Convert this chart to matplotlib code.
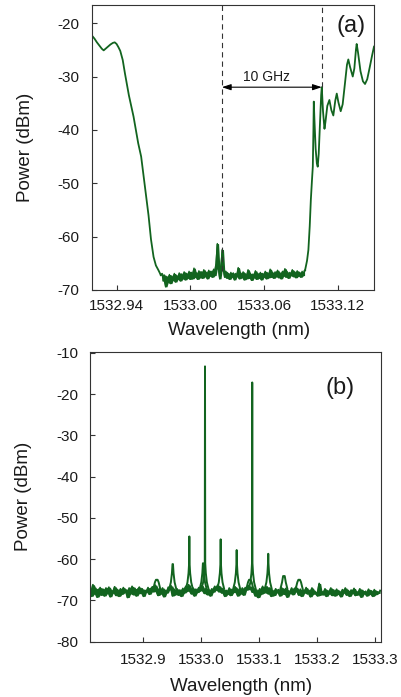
import numpy as np
import matplotlib
matplotlib.use('Agg')
import matplotlib.pyplot as plt
from matplotlib.ticker import FixedLocator, FormatStrFormatter

plt.rcParams['font.family'] = ['Liberation Sans', 'DejaVu Sans']
plt.rcParams['axes.unicode_minus'] = False
plt.rcParams['lines.scale_dashes'] = False

# ---------------- data: panel (a) ----------------
a_left_wl = [1532.9202, 1532.9220, 1532.9240, 1532.9260, 1532.9280, 1532.9295,
             1532.9310, 1532.9330, 1532.9350, 1532.9370, 1532.9385, 1532.9400,
             1532.9415, 1532.9430, 1532.9450, 1532.9468, 1532.9500, 1532.9538,
             1532.9576, 1532.9600, 1532.9630, 1532.9660, 1532.9680, 1532.9701,
             1532.9720, 1532.9741, 1532.9760]
a_left_dbm = [-22.4, -22.9, -23.6, -24.2, -24.8, -25.1,
              -24.8, -24.4, -24.0, -23.7, -23.6, -23.9,
              -24.5, -25.2, -26.9, -29.4, -33.5, -37.5,
              -42.5, -45.0, -50.5, -56.0, -60.5, -63.8,
              -65.4, -66.3, -67.2]
a_floor_start, a_floor_stop = 1532.977, 1533.093
a_floor_dbm = [-67.0, -68.3, -67.2, -69.4, -67.5, -68.6, -67.1, -68.8, -67.4, -68.2,
               -66.9, -68.5, -67.3, -68.0, -66.8, -68.3, -67.0, -67.9, -66.6, -68.1,
               -66.9, -67.8, -66.5, -68.0, -66.7, -67.9, -65.9, -67.6, -66.8, -68.0,
               -66.4, -67.7, -66.6, -67.8, -66.2, -67.5, -66.7, -67.9, -66.3, -67.4,
               -66.5, -67.6, -66.1, -67.3, -65.0, -61.3, -66.0, -67.9, -65.5, -62.4,
               -66.2, -67.6, -66.5, -67.8, -66.9, -68.0, -66.7, -67.6, -66.8, -68.1,
               -66.9, -67.5, -65.8, -67.9, -66.8, -67.7, -66.6, -68.1, -67.0, -67.9,
               -66.2, -67.8, -66.9, -68.2, -67.0, -67.7, -66.4, -68.0, -66.9, -67.8,
               -66.7, -68.1, -66.9, -67.6, -66.5, -67.9, -66.8, -67.7, -66.1, -67.6,
               -66.7, -67.8, -66.6, -67.5, -66.3, -67.7, -66.8, -67.9, -66.5, -67.4,
               -66.0, -67.6, -66.6, -67.8, -66.7, -67.3, -66.2, -67.5, -66.6, -67.7,
               -66.4, -67.4, -66.7, -67.6, -66.5, -67.3, -66.4]
a_right_wl = [1533.0934, 1533.0950, 1533.0961, 1533.0972, 1533.0981, 1533.0990,
              1533.0997, 1533.1002, 1533.1005, 1533.1010, 1533.1020, 1533.1030,
              1533.1037, 1533.1045, 1533.1055, 1533.1065, 1533.1070, 1533.1080,
              1533.1092, 1533.1100, 1533.1115, 1533.1132, 1533.1148, 1533.1164,
              1533.1180, 1533.1192, 1533.1205, 1533.1224, 1533.1240, 1533.1260,
              1533.1275, 1533.1286, 1533.1300, 1533.1322, 1533.1335, 1533.1348,
              1533.1354, 1533.1365, 1533.1385, 1533.1405, 1533.1422, 1533.1440,
              1533.1460, 1533.1480, 1533.1495]
a_right_dbm = [-66.3, -64.5, -62.5, -58.0, -53.1, -49.5,
               -46.9, -40.0, -34.7, -38.0, -43.5, -46.3,
               -46.9, -44.5, -39.0, -33.5, -32.0, -36.5,
               -39.8, -38.5, -35.5, -34.4, -36.3, -37.3,
               -34.5, -33.2, -34.8, -36.5, -35.2, -31.0,
               -27.8, -26.8, -28.2, -30.0, -28.5, -25.0,
               -23.9, -25.5, -29.0, -30.9, -31.4, -30.5,
               -28.3, -26.0, -24.4]
a_marker_wl = [1533.0257, 1533.1070]
a_marker_bottom_dbm = [-66.5, -32.0]
a_arrow_dbm = -32.0
a_xticks = [1532.94, 1533.00, 1533.06, 1533.12]
a_yticks = [-70, -60, -50, -40, -30, -20]

# ---------------- data: panel (b) ----------------
b_floor_start, b_floor_stop = 1532.809, 1533.309
b_floor_dbm = [
    -67.5, -69.0, -66.2, -68.4, -67.1, -69.2, -67.8, -66.9, -68.7, -67.3,
    -68.9, -67.0, -68.3, -66.8, -69.1, -67.6, -68.2, -66.7, -68.8, -67.4,
    -69.0, -67.2, -68.5, -66.9, -68.1, -67.5, -69.3, -67.0, -68.4, -66.6,
    -68.6, -67.1, -68.9, -67.4, -66.8, -68.3, -67.2, -69.0, -67.6, -68.0,
    -66.9, -68.5, -67.3, -66.7, -67.9, -66.3, -67.8, -68.8, -67.1, -68.4,
    -67.0, -69.1, -67.6, -68.2, -66.8, -67.4, -66.5, -68.9, -67.3, -68.6,
    -67.2, -68.7, -67.5, -69.0, -67.1, -68.2, -66.6, -67.8, -66.2, -67.5,
    -68.4, -67.0, -68.9, -67.3, -68.1, -66.9, -67.7, -66.4, -67.6, -68.3,
    -67.1, -68.6, -67.4, -68.9, -67.2, -68.0, -66.6, -67.5, -66.3, -67.9,
    -66.8, -68.2, -67.3, -69.0, -67.6, -68.5, -67.0, -68.8, -67.4, -68.1,
    -66.7, -67.4, -68.9, -67.2, -68.4, -67.0, -68.7, -66.9, -67.5, -66.4,
    -67.3, -66.8, -68.0, -67.1, -68.9, -67.5, -69.3, -67.2, -68.5, -66.6,
    -68.2, -67.3, -66.7, -68.4, -67.0, -69.0, -67.6, -68.8, -67.2, -68.1,
    -67.4, -68.9, -66.9, -67.8, -68.5, -67.1, -69.2, -67.7, -68.3, -67.0,
    -68.6, -67.2, -66.8, -67.9, -68.7, -67.3, -69.0, -67.5, -68.2, -66.9,
    -68.4, -67.6, -69.1, -67.0, -68.5, -67.8, -68.3, -68.9, -65.9, -68.7,
    -67.9, -68.6, -67.2, -69.0, -67.7, -68.4, -67.0, -68.8, -67.5, -68.9,
    -67.3, -68.5, -67.8, -69.1, -67.4, -68.2, -67.0, -68.7, -67.6, -69.0,
    -67.5, -68.3, -67.1, -68.8, -67.9, -68.6, -67.2, -69.2, -67.6, -68.4,
    -67.8, -68.9, -67.3, -68.5, -67.7, -69.0, -67.4, -68.6, -67.9, -68.3,
    -67.6]
b_line_wl = [1532.9241, 1532.9516, 1532.9802, 1533.0040, 1533.0072, 1533.0342,
             1533.0618, 1533.0845, 1533.0886, 1533.1162, 1533.1432, 1533.1695]
b_line_dbm = [-65.0, -61.2, -54.5, -61.0, -13.3, -55.2,
              -57.8, -65.0, -17.2, -58.7, -64.1, -65.0]
b_xticks = [1532.9, 1533.0, 1533.1, 1533.2, 1533.3]
b_yticks = [-80, -70, -60, -50, -40, -30, -20, -10]

# ---------------- style ----------------
GREEN = '#12641f'
FRAME = '#333333'
TXT = '#1a1a1a'
# skirt drawn around each line of the comb (shape, not data)
skirt_dx = [-0.0060, -0.0032, -0.0014, -0.0004, 0.0, 0.0004, 0.0014, 0.0032, 0.0060]
skirt_lv = [-67.2, -65.6, -63.4, -61.0, None, -61.0, -63.4, -65.6, -67.2]


def noise_band(ax, wl, p, lw):
    """Draw a dense noise trace: the samples themselves plus the spread
    between neighbouring samples, filled."""
    p = np.asarray(p, dtype=float)
    pad = np.concatenate([p[:1], p, p[-1:]])
    hi = np.maximum(np.maximum(pad[:-2], pad[1:-1]), pad[2:])
    lo = np.minimum(np.minimum(pad[:-2], pad[1:-1]), pad[2:])
    ax.fill_between(wl, lo, hi, color=GREEN, lw=0, alpha=1.0)
    ax.plot(wl, p, color=GREEN, lw=lw)


fig = plt.figure(figsize=(4.01, 6.97), dpi=100)
axA = fig.add_axes([92 / 401, 1 - 290 / 697, 282 / 401, 285 / 697])
axB = fig.add_axes([90 / 401, 1 - 641.7 / 697, 290.7 / 401, 290 / 697])

# panel (a)
a_floor_wl = np.linspace(a_floor_start, a_floor_stop, len(a_floor_dbm))
axA.plot(a_left_wl, a_left_dbm, color=GREEN, lw=1.3)
noise_band(axA, a_floor_wl, a_floor_dbm, 1.0)
axA.plot([a_left_wl[-1], a_floor_wl[0]], [a_left_dbm[-1], a_floor_dbm[0]],
         color=GREEN, lw=1.3)
axA.plot([a_floor_wl[-1], a_right_wl[0]], [a_floor_dbm[-1], a_right_dbm[0]],
         color=GREEN, lw=1.3)
axA.plot(a_right_wl, a_right_dbm, color=GREEN, lw=1.3)
axA.set_xlim(1532.920, 1533.1495)
axA.set_ylim(-70, -16.6)
for xm, yb in zip(a_marker_wl, a_marker_bottom_dbm):
    axA.plot([xm, xm], [yb, -16.6], color='#333333', lw=0.8,
             linestyle=(0, (3.8, 2.9)))
axA.annotate('', xy=(a_marker_wl[1], a_arrow_dbm), xytext=(a_marker_wl[0], a_arrow_dbm),
             arrowprops=dict(arrowstyle='<|-|>,head_length=0.45,head_width=0.15',
                             color='black', lw=0.8, shrinkA=0, shrinkB=0,
                             mutation_scale=12))
axA.text(1533.062, a_arrow_dbm + 0.6, '10 GHz', ha='center', va='bottom',
         fontsize=10, color=TXT)
axA.text(1533.1306, -20.6, '(a)', ha='center', va='center', fontsize=17, color=TXT)
axA.xaxis.set_major_locator(FixedLocator(a_xticks))
axA.xaxis.set_major_formatter(FormatStrFormatter('%.2f'))
axA.yaxis.set_major_locator(FixedLocator(a_yticks))
axA.yaxis.set_major_formatter(FormatStrFormatter('%d'))
axA.tick_params(axis='x', pad=6.5)
axA.tick_params(axis='y', pad=9)
axA.set_xlabel('Wavelength (nm)', fontsize=13.5, color=TXT)
axA.set_ylabel('Power (dBm)', fontsize=13.5, color=TXT)
axA.xaxis.set_label_coords(0.522, -0.111)
axA.yaxis.set_label_coords(-0.207, 0.5)

# panel (b)
b_floor_wl = np.linspace(b_floor_start, b_floor_stop, len(b_floor_dbm))
noise_band(axB, b_floor_wl, b_floor_dbm, 1.3)
for wl, pk in zip(b_line_wl, b_line_dbm):
    xs = [wl + d for d in skirt_dx]
    ys = [pk if lv is None else min(lv, pk) for lv in skirt_lv]
    axB.plot(xs, ys, color=GREEN, lw=1.4)
axB.set_xlim(1532.809, 1533.310)
axB.set_ylim(-80, -9.75)
axB.text(1533.2396, -18.5, '(b)', ha='center', va='center', fontsize=17, color=TXT)
axB.xaxis.set_major_locator(FixedLocator(b_xticks))
axB.xaxis.set_major_formatter(FormatStrFormatter('%.1f'))
axB.yaxis.set_major_locator(FixedLocator(b_yticks))
axB.yaxis.set_major_formatter(FormatStrFormatter('%d'))
axB.tick_params(axis='x', pad=8)
axB.tick_params(axis='y', pad=8.6)
axB.set_xlabel('Wavelength (nm)', fontsize=13.5, color=TXT)
axB.set_ylabel('Power (dBm)', fontsize=13.5, color=TXT)
axB.xaxis.set_label_coords(0.519, -0.126)
axB.yaxis.set_label_coords(-0.2006, 0.5)

for ax in (axA, axB):
    for s in ax.spines.values():
        s.set_color(FRAME)
        s.set_linewidth(0.8)
    ax.tick_params(direction='in', length=3.6, width=0.8, color=FRAME,
                   labelsize=11, labelcolor=TXT, top=False, right=False)

fig.savefig('out.png', dpi=100)
